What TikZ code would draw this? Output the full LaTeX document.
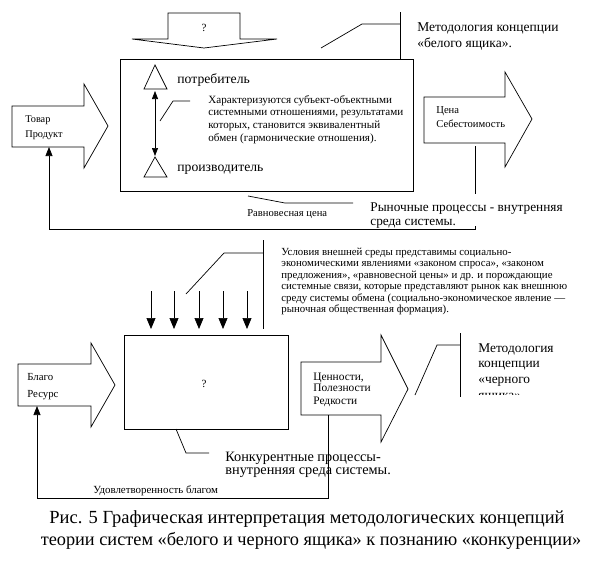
\documentclass[tikz,border=0pt]{standalone}
\usepackage{fontspec}
\setmainfont{Liberation Serif}
\usetikzlibrary{arrows.meta}
\begin{document}
\begin{tikzpicture}[x=1pt,y=-1pt,line width=0.7pt,line join=miter,
  shp/.style={draw,line width=0.7pt},
  arr/.style={-{Triangle[length=9pt,width=7pt]}},
  darr/.style={{Triangle[length=8pt,width=6pt]}-{Triangle[length=8pt,width=6pt]}},
  tl/.style={inner sep=0pt,anchor=base west},
  boxn/.style={draw,anchor=north west,inner sep=0pt},
]
\path[use as bounding box] (0,0) rectangle (612,560);
% ===== TOP PART =====
\draw[shp] (168,13) -- (240,13) -- (240,39) -- (277,39) -- (204,48) -- (132,39) -- (168,39) -- cycle;
\node[inner sep=0pt,font=\fontsize{11}{13}\selectfont] (q1) at (204,28) {?};
\node[boxn,minimum width=293pt,minimum height=132pt] (wb) at (120,59) {};
\draw[shp] (155,65) -- (167,89) -- (144,89) -- cycle;
\draw[shp] (155,157) -- (167,177) -- (144,177) -- cycle;
\node[tl,font=\fontsize{13.7}{16}\selectfont] (cons) at (177,83) {потребитель};
\node[tl,font=\fontsize{13.7}{16}\selectfont] (prod) at (177,171) {производитель};
\coordinate (da1) at (155,91);
\coordinate (da2) at (155,156);
\draw[darr] (da1) -- (da2);
\coordinate (l1a) at (160,121);
\coordinate (l1b) at (173,101);
\coordinate (l1c) at (190,101);
\draw (l1a) -- (l1b) -- (l1c);
\begin{scope}[every node/.style={tl,font=\fontsize{11.1}{13}\selectfont}]
\node (chr1) at (208,103) {Характеризуются субъект-объектными};
\node (chr2) at (208,115.5) {системными отношениями, результатами};
\node (chr3) at (208,128) {которых, становится эквивалентный};
\node (chr4) at (208,141) {обмен (гармонические отношения).};
\end{scope}
\coordinate (m1a) at (400,12);
\coordinate (m1b) at (400,59);
\coordinate (m1c) at (362,24);
\coordinate (m1d) at (321,48);
\draw (m1a) -- (m1b);
\draw (m1b |- m1c) -- (m1c) -- (m1d);
\node[tl,font=\fontsize{13.5}{16}\selectfont] (mw1) at (417,31) {Методология концепции};
\node[tl,font=\fontsize{13.5}{16}\selectfont] (mw2) at (417,47.5) {«белого ящика».};
% left block arrow Товар
\draw[shp] (12,106) -- (84,106) -- (84,84) -- (108,126) -- (84,168) -- (84,147) -- (12,147) -- cycle;
\node[tl,font=\fontsize{10.3}{12}\selectfont] (tov1) at (25,122) {Товар};
\node[tl,font=\fontsize{10.3}{12}\selectfont] (tov2) at (25,137) {Продукт};
\coordinate (tovb) at (49,147);
% right block arrow Цена
\draw[shp] (424,97) -- (505,97) -- (505,72) -- (532,119) -- (505,167) -- (505,143) -- (424,143) -- cycle;
\node[tl,font=\fontsize{10.6}{12}\selectfont] (cen1) at (436,113) {Цена};
\node[tl,font=\fontsize{10.6}{12}\selectfont] (cen2) at (436,127.5) {Себестоимость};
\coordinate (cenb) at (475,146);
% feedback loop top
\coordinate (fb1) at (475,229);
\coordinate (fb2) at (49,229);
\draw[arr] (cenb) -- (fb1) -- (fb2) -- (tovb);
\fill[white] (368,194) rectangle (566,226);
\node[tl,font=\fontsize{13.3}{15}\selectfont] (rp1) at (370,211) {Рыночные процессы - внутренняя};
\node[tl,font=\fontsize{13.3}{15}\selectfont] (rp2) at (370,225) {среда системы.};
\node[tl,font=\fontsize{10.6}{12}\selectfont] (rc) at (247,216) {Равновесная цена};
\coordinate (r1a) at (248,196);
\coordinate (r1b) at (285,203);
\coordinate (r1c) at (353,203);
\draw (r1a) -- (r1b) -- (r1c);
% ===== BOTTOM PART =====
\coordinate (e1a) at (263,240);
\coordinate (e1b) at (263,329);
\coordinate (e1c) at (224,253);
\coordinate (e1d) at (186,294);
\draw (e1a) -- (e1b);
\draw (e1a |- e1c) -- (e1c) -- (e1d);
\begin{scope}[every node/.style={tl,font=\fontsize{10.85}{13}\selectfont}]
\node (env1) at (281,255) {Условия внешней среды представимы социально-};
\node (env2) at (281,266.5) {экономическими явлениями «законом спроса», «законом};
\node (env3) at (281,278) {предложения», «равновесной цены» и др. и порождающие};
\node (env4) at (281,289.5) {системные связи, которые представляют рынок как внешнюю};
\node (env5) at (281,301) {среду системы обмена (социально-экономическое явление —};
\node (env6) at (281,312.5) {рыночная общественная формация).};
\end{scope}
\foreach \xx/\nm in {151/a,174/b,199/c,223/d,247/e}{
  \coordinate (dt\nm) at (\xx,291);
  \coordinate (db\nm) at (\xx,329);
  \draw[-{Triangle[length=11pt,width=9pt]}] (dt\nm) -- (db\nm);
}
\node[boxn,minimum width=164pt,minimum height=94pt] (bb) at (124,335) {};
\node[inner sep=0pt,font=\fontsize{11}{13}\selectfont] (q2) at (204,384) {?};
% left block arrow Благо
\draw[shp] (18,364) -- (91,364) -- (91,343) -- (115,385) -- (91,427) -- (91,406) -- (18,406) -- cycle;
\node[tl,font=\fontsize{10.8}{12}\selectfont] (blg1) at (27,380) {Благо};
\node[tl,font=\fontsize{10.8}{12}\selectfont] (blg2) at (27,397) {Ресурс};
\coordinate (blgb) at (37,406);
% right block arrow Ценности
\draw[shp] (301,362) -- (381,362) -- (381,335) -- (408,389) -- (381,442) -- (381,415) -- (301,415) -- cycle;
\node[tl,font=\fontsize{11.4}{12}\selectfont] (cnn1) at (313,380) {Ценности,};
\node[tl,font=\fontsize{11.4}{12}\selectfont] (cnn2) at (313,391.5) {Полезности};
\node[tl,font=\fontsize{11.4}{12}\selectfont] (cnn3) at (313,404) {Редкости};
\coordinate (cnnb) at (328,415);
% competition text
\node[tl,font=\fontsize{14.3}{16}\selectfont] (kp1) at (225,461.5) {Конкурентные процессы-};
\node[tl,font=\fontsize{14.3}{16}\selectfont] (kp2) at (225,474.5) {внутренняя среда системы.};
\coordinate (k1a) at (176,429);
\coordinate (k1b) at (186,453);
\coordinate (k1c) at (209,453);
\draw (k1a) -- (k1b) -- (k1c);
\coordinate (fc1) at (328,498);
\coordinate (fc2) at (37,498);
\draw[arr] (cnnb) -- (fc1) -- (fc2) -- (blgb);
\node[tl,font=\fontsize{10.9}{12}\selectfont] (ud) at (93,493) {Удовлетворенность благом};
% black box methodology
\coordinate (m2a) at (460,333);
\coordinate (m2b) at (460,397);
\coordinate (m2c) at (437,345);
\coordinate (m2d) at (415,395);
\draw (m2a) -- (m2b);
\draw (m2a |- m2c) -- (m2c) -- (m2d);
\begin{scope}[every node/.style={tl,font=\fontsize{13.4}{15}\selectfont}]
\node (mb1) at (478,352) {Методология};
\node (mb2) at (478,367.5) {концепции};
\node (mb3) at (478,383) {«черного};
\begin{scope}
\clip (470,386.5) rectangle (600,394.5);
\node (mb4) at (478,399.5) {ящика».};
\end{scope}
\end{scope}
% caption
\node[inner sep=0pt,anchor=base,font=\fontsize{18.5}{22}\selectfont] (cap1) at (307,523) {Рис. 5 Графическая интерпретация методологических концепций};
\node[inner sep=0pt,anchor=base,font=\fontsize{18.3}{22}\selectfont] (cap2) at (311,545) {теории систем «белого и черного ящика» к познанию «конкуренции»};
\end{tikzpicture}
\end{document}
